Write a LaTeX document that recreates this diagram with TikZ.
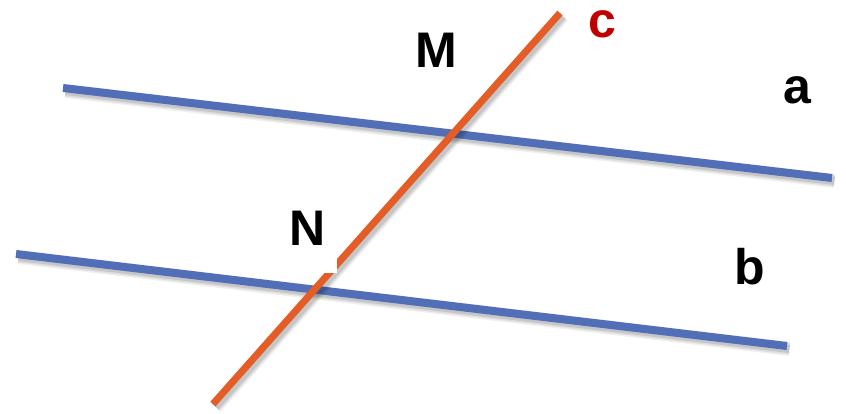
\documentclass[tikz,border=0pt]{standalone}
\usepackage{fontspec}
\setmainfont{Liberation Sans}
\definecolor{lineblue}{RGB}{82,110,182}
\definecolor{lineorange}{RGB}{228,92,38}
\definecolor{labelred}{RGB}{192,0,0}
\tikzset{
  shadowed/.style={
    preaction={draw=black, opacity=0.06, line width=14pt, transform canvas={shift={(2.5pt,-3pt)}}},
    preaction={draw=black, opacity=0.08, line width=11pt, transform canvas={shift={(2.5pt,-3pt)}}},
    preaction={draw=black, opacity=0.10, line width=8pt, transform canvas={shift={(2.5pt,-3pt)}}}
  },
  blueline/.style={shadowed, draw=lineblue, line width=8pt},
  orangeline/.style={shadowed, draw=lineorange, line width=7pt},
  lbl/.style={font=\fontsize{50}{50}\bfseries, inner sep=0pt},
  xlbl/.style={lbl, text height=26pt, text depth=0pt, anchor=base}
}
\begin{document}
\begin{tikzpicture}[x=1pt,y=-1pt]
\useasboundingbox (0,0) rectangle (846,413);
\coordinate (a1) at (63,88);
\coordinate (a2) at (832,178);
\coordinate (b1) at (16,254);
\coordinate (b2) at (787,346);
\coordinate (c1) at (213,404);
\coordinate (c2) at (560,13);
\draw[blueline] (a1) -- (a2);
\draw[blueline] (b1) -- (b2);
\draw[orangeline] (c1) -- (c2);
\fill[white] (262,195) rectangle (337,273);
\node[lbl] (M) at (436,50) {M};
\node[xlbl, text=labelred] (c) at (602,37.5) {c};
\node[xlbl] (a) at (797,103.5) {a};
\node[lbl] (N) at (308,228) {N};
\node[lbl] (b) at (750,267) {b};
\end{tikzpicture}
\end{document}
